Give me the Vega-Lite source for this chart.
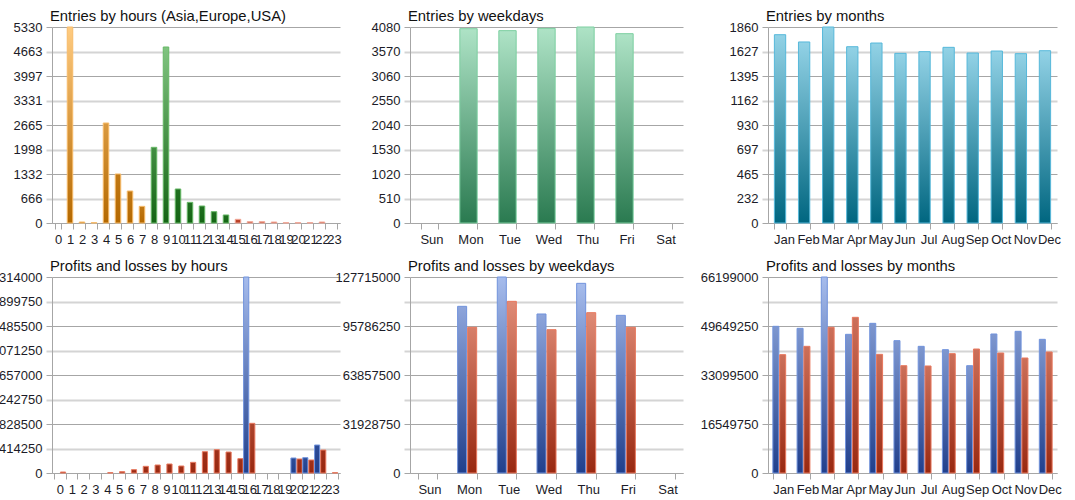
{
  "$schema": "https://vega.github.io/schema/vega-lite/v6.json",
  "autosize": {"type": "none"},
  "padding": {"left": 52, "top": 27, "right": 1023, "bottom": 473},
  "background": "white",
  "config": {
    "view": {"stroke": null},
    "font": "Liberation Sans",
    "axis": {"labelFont": "Liberation Sans", "labelFontSize": 13, "labelColor": "#1c1c28", "domainColor": "#a6a6a6", "tickColor": "#a6a6a6", "domainWidth": 1, "tickWidth": 1},
    "axisX": {"grid": false, "tickBand": "extent", "tickSize": 6, "labelPadding": 4, "labelAngle": 0, "labelOverlap": false},
    "axisY": {"tickSize": 6, "labelPadding": 4, "labelOverlap": false},
    "title": {"anchor": "start", "frame": "group", "fontSize": 14.8, "fontWeight": "normal", "font": "Liberation Sans", "color": "#111111", "offset": 7, "baseline": "alphabetic", "dx": -2, "dy": 10}
  },
  "datasets": {
    "hours": [
      {"hour": 1, "region": "Asia", "entries": 5330},
      {"hour": 2, "region": "Asia", "entries": 27},
      {"hour": 3, "region": "Asia", "entries": 9},
      {"hour": 4, "region": "Asia", "entries": 2719},
      {"hour": 5, "region": "Asia", "entries": 1333},
      {"hour": 6, "region": "Asia", "entries": 870},
      {"hour": 7, "region": "Asia", "entries": 453},
      {"hour": 8, "region": "Europe", "entries": 2058},
      {"hour": 9, "region": "Europe", "entries": 4786},
      {"hour": 10, "region": "Europe", "entries": 925},
      {"hour": 11, "region": "Europe", "entries": 562},
      {"hour": 12, "region": "Europe", "entries": 462},
      {"hour": 13, "region": "Europe", "entries": 308},
      {"hour": 14, "region": "Europe", "entries": 218},
      {"hour": 15, "region": "USA", "entries": 100},
      {"hour": 16, "region": "USA", "entries": 36},
      {"hour": 17, "region": "USA", "entries": 36},
      {"hour": 18, "region": "USA", "entries": 27},
      {"hour": 19, "region": "USA", "entries": 9},
      {"hour": 20, "region": "USA", "entries": 9},
      {"hour": 21, "region": "USA", "entries": 9},
      {"hour": 22, "region": "USA", "entries": 27}
    ],
    "weekdays": [
      {"day": "Mon", "entries": 4045},
      {"day": "Tue", "entries": 4004},
      {"day": "Wed", "entries": 4052},
      {"day": "Thu", "entries": 4080},
      {"day": "Fri", "entries": 3941}
    ],
    "months": [
      {"month": "Jan", "entries": 1787},
      {"month": "Feb", "entries": 1718},
      {"month": "Mar", "entries": 1860},
      {"month": "Apr", "entries": 1673},
      {"month": "May", "entries": 1708},
      {"month": "Jun", "entries": 1610},
      {"month": "Jul", "entries": 1626},
      {"month": "Aug", "entries": 1667},
      {"month": "Sep", "entries": 1613},
      {"month": "Oct", "entries": 1632},
      {"month": "Nov", "entries": 1607},
      {"month": "Dec", "entries": 1635}
    ],
    "pl_hours": [
      {"hour": 0, "series": "Loss", "value": 180000},
      {"hour": 4, "series": "Loss", "value": 60000},
      {"hour": 5, "series": "Loss", "value": 240000},
      {"hour": 6, "series": "Loss", "value": 600000},
      {"hour": 7, "series": "Loss", "value": 1200000},
      {"hour": 8, "series": "Loss", "value": 1440000},
      {"hour": 9, "series": "Loss", "value": 1620000},
      {"hour": 10, "series": "Loss", "value": 1260000},
      {"hour": 11, "series": "Loss", "value": 1920000},
      {"hour": 12, "series": "Loss", "value": 3840000},
      {"hour": 13, "series": "Loss", "value": 4200000},
      {"hour": 14, "series": "Loss", "value": 3780000},
      {"hour": 15, "series": "Loss", "value": 2580000},
      {"hour": 16, "series": "Profit", "value": 35314000},
      {"hour": 16, "series": "Loss", "value": 8950000},
      {"hour": 20, "series": "Profit", "value": 2700000},
      {"hour": 20, "series": "Loss", "value": 2520000},
      {"hour": 21, "series": "Profit", "value": 2760000},
      {"hour": 21, "series": "Loss", "value": 2340000},
      {"hour": 22, "series": "Profit", "value": 5040000},
      {"hour": 22, "series": "Loss", "value": 4140000},
      {"hour": 23, "series": "Loss", "value": 60000}
    ],
    "pl_weekdays": [
      {"day": "Mon", "series": "Profit", "value": 108600000},
      {"day": "Mon", "series": "Loss", "value": 94920000},
      {"day": "Tue", "series": "Profit", "value": 127715000},
      {"day": "Tue", "series": "Loss", "value": 111860000},
      {"day": "Wed", "series": "Profit", "value": 103610000},
      {"day": "Wed", "series": "Loss", "value": 93400000},
      {"day": "Thu", "series": "Profit", "value": 123590000},
      {"day": "Thu", "series": "Loss", "value": 104480000},
      {"day": "Fri", "series": "Profit", "value": 102740000},
      {"day": "Fri", "series": "Loss", "value": 94920000}
    ],
    "pl_months": [
      {"month": "Jan", "series": "Profit", "value": 49540000},
      {"month": "Jan", "series": "Loss", "value": 39970000},
      {"month": "Feb", "series": "Profit", "value": 48860000},
      {"month": "Feb", "series": "Loss", "value": 42780000},
      {"month": "Mar", "series": "Profit", "value": 66199000},
      {"month": "Mar", "series": "Loss", "value": 49200000},
      {"month": "Apr", "series": "Profit", "value": 46840000},
      {"month": "Apr", "series": "Loss", "value": 52580000},
      {"month": "May", "series": "Profit", "value": 50550000},
      {"month": "May", "series": "Loss", "value": 40080000},
      {"month": "Jun", "series": "Profit", "value": 44700000},
      {"month": "Jun", "series": "Loss", "value": 36250000},
      {"month": "Jul", "series": "Profit", "value": 42780000},
      {"month": "Jul", "series": "Loss", "value": 36140000},
      {"month": "Aug", "series": "Profit", "value": 41660000},
      {"month": "Aug", "series": "Loss", "value": 40310000},
      {"month": "Sep", "series": "Profit", "value": 36250000},
      {"month": "Sep", "series": "Loss", "value": 41880000},
      {"month": "Oct", "series": "Profit", "value": 46950000},
      {"month": "Oct", "series": "Loss", "value": 40530000},
      {"month": "Nov", "series": "Profit", "value": 47850000},
      {"month": "Nov", "series": "Loss", "value": 38840000},
      {"month": "Dec", "series": "Profit", "value": 45150000},
      {"month": "Dec", "series": "Loss", "value": 40870000}
    ]
  },
  "columns": 3,
  "bounds": "flush",
  "spacing": {"row": 54, "column": 70},
  "resolve": {"scale": {"x": "independent", "y": "independent", "xOffset": "independent", "color": "independent", "stroke": "independent"}},
  "concat": [
    {
      "title": "Entries by hours (Asia,Europe,USA)",
      "width": 288, "height": 196,
      "data": {"name": "hours"},
      "mark": {"type": "bar", "strokeWidth": 1},
      "encoding": {
        "x": {"field": "hour", "type": "ordinal", "title": null,
          "scale": {"domain": [0,1,2,3,4,5,6,7,8,9,10,11,12,13,14,15,16,17,18,19,20,21,22,23], "paddingInner": 0.54}},
        "y": {"field": "entries", "type": "quantitative", "title": null,
          "scale": {"domain": [0, 5330], "nice": false},
          "axis": {"values": [0, 666.25, 1332.5, 1998.75, 2665, 3331.25, 3997.5, 4663.75, 5330],
            "labelExpr": "'' + floor(datum.value)",
            "gridColor": {"condition": {"test": "round(datum.value / 666.25) % 2 == 1", "value": "#d4d4d4"}, "value": "#a6a6a6"},
            "gridWidth": {"condition": {"test": "round(datum.value / 666.25) % 2 == 1", "value": 2}, "value": 1},
            "tickColor": {"condition": {"test": "round(datum.value / 666.25) % 2 == 1", "value": "#d4d4d4"}, "value": "#a6a6a6"},
            "tickWidth": {"condition": {"test": "round(datum.value / 666.25) % 2 == 1", "value": 2}, "value": 1}}},
        "color": {
          "condition": [
            {"test": "datum.region == 'Asia' && datum.entries > 4000", "value": {"x1": 0, "y1": 0, "x2": 0, "y2": 1, "gradient": "linear", "stops": [{"offset": 0, "color": "#ffcb80"}, {"offset": 1, "color": "#b46800"}]}},
            {"test": "datum.region == 'Asia' && datum.entries > 2000", "value": {"x1": 0, "y1": 0, "x2": 0, "y2": 1, "gradient": "linear", "stops": [{"offset": 0, "color": "#da9a41"}, {"offset": 1, "color": "#b46800"}]}},
            {"test": "datum.region == 'Asia'", "value": {"x1": 0, "y1": 0, "x2": 0, "y2": 1, "gradient": "linear", "stops": [{"offset": 0, "color": "#c17916"}, {"offset": 1, "color": "#b46800"}]}},
            {"test": "datum.region == 'Europe' && datum.entries > 4000", "value": {"x1": 0, "y1": 0, "x2": 0, "y2": 1, "gradient": "linear", "stops": [{"offset": 0, "color": "#80c480"}, {"offset": 1, "color": "#146414"}]}},
            {"test": "datum.region == 'Europe' && datum.entries > 1500", "value": {"x1": 0, "y1": 0, "x2": 0, "y2": 1, "gradient": "linear", "stops": [{"offset": 0, "color": "#438e43"}, {"offset": 1, "color": "#146414"}]}},
            {"test": "datum.region == 'Europe'", "value": {"x1": 0, "y1": 0, "x2": 0, "y2": 1, "gradient": "linear", "stops": [{"offset": 0, "color": "#206f20"}, {"offset": 1, "color": "#146414"}]}}
          ],
          "value": {"x1": 0, "y1": 0, "x2": 0, "y2": 1, "gradient": "linear", "stops": [{"offset": 0, "color": "#c44a30"}, {"offset": 1, "color": "#b03a20"}]}
        },
        "stroke": {
          "condition": [
            {"test": "datum.region == 'Asia'", "value": "#f7bb6a"},
            {"test": "datum.region == 'Europe'", "value": "#66b866"}
          ],
          "value": "#f2a898"
        }
      }
    },
    {
      "title": "Entries by weekdays",
      "width": 288, "height": 196,
      "data": {"name": "weekdays"},
      "mark": {"type": "bar", "strokeWidth": 1, "stroke": "#7ccfa0",
        "color": {"x1": 0, "y1": 0, "x2": 0, "y2": 1, "gradient": "linear", "stops": [{"offset": 0, "color": "#aee3c6"}, {"offset": 1, "color": "#2a7a50"}]}},
      "encoding": {
        "x": {"field": "day", "type": "ordinal", "title": null,
          "scale": {"domain": ["Sun", "Mon", "Tue", "Wed", "Thu", "Fri", "Sat"], "range": [0, 273], "paddingInner": 0.556},
          "axis": {"labelOffset": 2}},
        "y": {"field": "entries", "type": "quantitative", "title": null,
          "scale": {"domain": [0, 4080], "nice": false},
          "axis": {"values": [0, 510, 1020, 1530, 2040, 2550, 3060, 3570, 4080],
            "labelExpr": "'' + floor(datum.value)",
            "gridColor": {"condition": {"test": "round(datum.value / 510) % 2 == 1", "value": "#d4d4d4"}, "value": "#a6a6a6"},
            "gridWidth": {"condition": {"test": "round(datum.value / 510) % 2 == 1", "value": 2}, "value": 1},
            "tickColor": {"condition": {"test": "round(datum.value / 510) % 2 == 1", "value": "#d4d4d4"}, "value": "#a6a6a6"},
            "tickWidth": {"condition": {"test": "round(datum.value / 510) % 2 == 1", "value": 2}, "value": 1}}}
      }
    },
    {
      "title": "Entries by months",
      "width": 289, "height": 196,
      "data": {"name": "months"},
      "mark": {"type": "bar", "strokeWidth": 1, "stroke": "#56b8da",
        "color": {"x1": 0, "y1": 0, "x2": 0, "y2": 1, "gradient": "linear", "stops": [{"offset": 0, "color": "#92d2e6"}, {"offset": 1, "color": "#006680"}]}},
      "encoding": {
        "x": {"field": "month", "type": "ordinal", "title": null,
          "scale": {"domain": ["Jan", "Feb", "Mar", "Apr", "May", "Jun", "Jul", "Aug", "Sep", "Oct", "Nov", "Dec"], "paddingInner": 0.53},
          "axis": {"labelOffset": 4}},
        "y": {"field": "entries", "type": "quantitative", "title": null,
          "scale": {"domain": [0, 1860], "nice": false},
          "axis": {"values": [0, 232.5, 465, 697.5, 930, 1162.5, 1395, 1627.5, 1860],
            "labelExpr": "'' + floor(datum.value)",
            "gridColor": {"condition": {"test": "round(datum.value / 232.5) % 2 == 1", "value": "#d4d4d4"}, "value": "#a6a6a6"},
            "gridWidth": {"condition": {"test": "round(datum.value / 232.5) % 2 == 1", "value": 2}, "value": 1},
            "tickColor": {"condition": {"test": "round(datum.value / 232.5) % 2 == 1", "value": "#d4d4d4"}, "value": "#a6a6a6"},
            "tickWidth": {"condition": {"test": "round(datum.value / 232.5) % 2 == 1", "value": 2}, "value": 1}}}
      }
    },
    {
      "title": "Profits and losses by hours",
      "width": 288, "height": 196,
      "data": {"name": "pl_hours"},
      "mark": {"type": "bar", "strokeWidth": 1},
      "encoding": {
        "x": {"field": "hour", "type": "ordinal", "title": null,
          "scale": {"domain": [0,1,2,3,4,5,6,7,8,9,10,11,12,13,14,15,16,17,18,19,20,21,22,23], "paddingInner": 0.05}},
        "xOffset": {"field": "series", "type": "nominal", "scale": {"domain": ["Profit", "Loss"], "paddingInner": 0.15, "paddingOuter": 0}},
        "y": {"field": "value", "type": "quantitative", "title": null,
          "scale": {"domain": [0, 35314000], "nice": false},
          "axis": {"values": [0, 4414250, 8828500, 13242750, 17657000, 22071250, 26485500, 30899750, 35314000],
            "labelExpr": "'' + floor(datum.value)",
            "gridColor": {"condition": {"test": "round(datum.value / 4414250) % 2 == 1", "value": "#d4d4d4"}, "value": "#a6a6a6"},
            "gridWidth": {"condition": {"test": "round(datum.value / 4414250) % 2 == 1", "value": 2}, "value": 1},
            "tickColor": {"condition": {"test": "round(datum.value / 4414250) % 2 == 1", "value": "#d4d4d4"}, "value": "#a6a6a6"},
            "tickWidth": {"condition": {"test": "round(datum.value / 4414250) % 2 == 1", "value": 2}, "value": 1}}},
        "color": {
          "condition": [
            {"test": "datum.series == 'Profit' && datum.value > 20000000", "value": {"x1": 0, "y1": 0, "x2": 0, "y2": 1, "gradient": "linear", "stops": [{"offset": 0, "color": "#a6bcec"}, {"offset": 1, "color": "#203f8c"}]}},
            {"test": "datum.series == 'Profit'", "value": {"x1": 0, "y1": 0, "x2": 0, "y2": 1, "gradient": "linear", "stops": [{"offset": 0, "color": "#2d4c96"}, {"offset": 1, "color": "#203f8c"}]}},
            {"test": "datum.value > 6000000", "value": {"x1": 0, "y1": 0, "x2": 0, "y2": 1, "gradient": "linear", "stops": [{"offset": 0, "color": "#ad452e"}, {"offset": 1, "color": "#982810"}]}}
          ],
          "value": {"x1": 0, "y1": 0, "x2": 0, "y2": 1, "gradient": "linear", "stops": [{"offset": 0, "color": "#9f311a"}, {"offset": 1, "color": "#982810"}]}
        },
        "stroke": {"condition": {"test": "datum.series == 'Profit'", "value": "#7193dc"}, "value": "#e8785e"}
      }
    },
    {
      "title": "Profits and losses by weekdays",
      "width": 288, "height": 196,
      "data": {"name": "pl_weekdays"},
      "mark": {"type": "bar", "strokeWidth": 1},
      "encoding": {
        "x": {"field": "day", "type": "ordinal", "title": null,
          "scale": {"domain": ["Sun", "Mon", "Tue", "Wed", "Thu", "Fri", "Sat"], "range": [0, 273], "paddingInner": 0.52},
          "axis": {"labelOffset": 2}},
        "xOffset": {"field": "series", "type": "nominal", "scale": {"domain": ["Profit", "Loss"], "paddingInner": 0.1, "paddingOuter": 0}},
        "y": {"field": "value", "type": "quantitative", "title": null,
          "scale": {"domain": [0, 127715000], "nice": false},
          "axis": {"values": [0, 15964375, 31928750, 47893125, 63857500, 79821875, 95786250, 111750625, 127715000],
            "labelExpr": "round(datum.value / 15964375) % 2 == 0 ? '' + datum.value : ''",
            "gridColor": {"condition": {"test": "round(datum.value / 15964375) % 2 == 1", "value": "#d4d4d4"}, "value": "#a6a6a6"},
            "gridWidth": {"condition": {"test": "round(datum.value / 15964375) % 2 == 1", "value": 2}, "value": 1},
            "tickColor": {"condition": {"test": "round(datum.value / 15964375) % 2 == 1", "value": "#d4d4d4"}, "value": "#a6a6a6"},
            "tickWidth": {"condition": {"test": "round(datum.value / 15964375) % 2 == 1", "value": 2}, "value": 1}}},
        "color": {
          "condition": [
            {"test": "datum.series == 'Profit' && datum.value > 120000000", "value": {"x1": 0, "y1": 0, "x2": 0, "y2": 1, "gradient": "linear", "stops": [{"offset": 0, "color": "#a6bcec"}, {"offset": 1, "color": "#203f8c"}]}},
            {"test": "datum.series == 'Profit'", "value": {"x1": 0, "y1": 0, "x2": 0, "y2": 1, "gradient": "linear", "stops": [{"offset": 0, "color": "#8ea5db"}, {"offset": 1, "color": "#203f8c"}]}},
            {"test": "datum.value > 100000000", "value": {"x1": 0, "y1": 0, "x2": 0, "y2": 1, "gradient": "linear", "stops": [{"offset": 0, "color": "#df8b76"}, {"offset": 1, "color": "#982810"}]}}
          ],
          "value": {"x1": 0, "y1": 0, "x2": 0, "y2": 1, "gradient": "linear", "stops": [{"offset": 0, "color": "#d77f6a"}, {"offset": 1, "color": "#982810"}]}
        },
        "stroke": {"condition": {"test": "datum.series == 'Profit'", "value": "#7193dc"}, "value": "#e8785e"}
      }
    },
    {
      "title": "Profits and losses by months",
      "width": 289, "height": 196,
      "data": {"name": "pl_months"},
      "mark": {"type": "bar", "strokeWidth": 1},
      "encoding": {
        "x": {"field": "month", "type": "ordinal", "title": null,
          "scale": {"domain": ["Jan", "Feb", "Mar", "Apr", "May", "Jun", "Jul", "Aug", "Sep", "Oct", "Nov", "Dec"], "paddingInner": 0.47},
          "axis": {"labelOffset": 4}},
        "xOffset": {"field": "series", "type": "nominal", "scale": {"domain": ["Profit", "Loss"], "paddingInner": 0.12, "paddingOuter": 0}},
        "y": {"field": "value", "type": "quantitative", "title": null,
          "scale": {"domain": [0, 66199000], "nice": false},
          "axis": {"values": [0, 8274875, 16549750, 24824625, 33099500, 41374375, 49649250, 57924125, 66199000],
            "labelExpr": "round(datum.value / 8274875) % 2 == 0 ? '' + datum.value : ''",
            "gridColor": {"condition": {"test": "round(datum.value / 8274875) % 2 == 1", "value": "#d4d4d4"}, "value": "#a6a6a6"},
            "gridWidth": {"condition": {"test": "round(datum.value / 8274875) % 2 == 1", "value": 2}, "value": 1},
            "tickColor": {"condition": {"test": "round(datum.value / 8274875) % 2 == 1", "value": "#d4d4d4"}, "value": "#a6a6a6"},
            "tickWidth": {"condition": {"test": "round(datum.value / 8274875) % 2 == 1", "value": 2}, "value": 1}}},
        "color": {
          "condition": [
            {"test": "datum.series == 'Profit' && datum.value > 60000000", "value": {"x1": 0, "y1": 0, "x2": 0, "y2": 1, "gradient": "linear", "stops": [{"offset": 0, "color": "#a6bcec"}, {"offset": 1, "color": "#203f8c"}]}},
            {"test": "datum.series == 'Profit'", "value": {"x1": 0, "y1": 0, "x2": 0, "y2": 1, "gradient": "linear", "stops": [{"offset": 0, "color": "#7e97cf"}, {"offset": 1, "color": "#203f8c"}]}}
          ],
          "value": {"x1": 0, "y1": 0, "x2": 0, "y2": 1, "gradient": "linear", "stops": [{"offset": 0, "color": "#cc705a"}, {"offset": 1, "color": "#982810"}]}
        },
        "stroke": {"condition": {"test": "datum.series == 'Profit'", "value": "#7193dc"}, "value": "#e8785e"}
      }
    }
  ]
}
